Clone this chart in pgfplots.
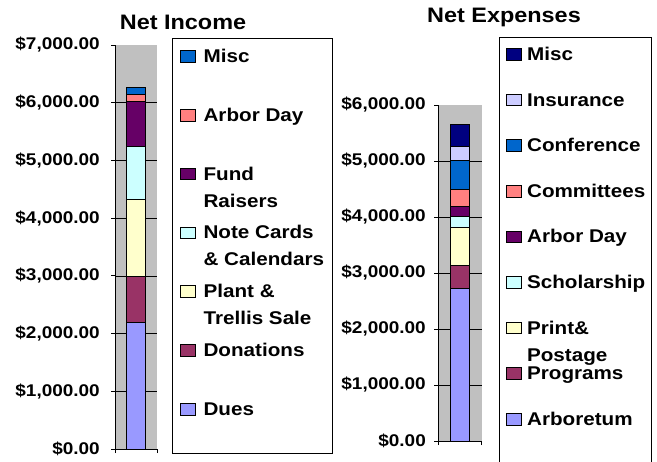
\documentclass[border=0pt]{standalone}
\usepackage{fontspec}
\setmainfont{Liberation Sans}[FakeStretch=1.12]
\usepackage{pgfplots}
\pgfplotsset{compat=1.18}
\definecolor{silverbg}{HTML}{C0C0C0}
\definecolor{periw}{HTML}{9999FF}
\definecolor{plum}{HTML}{993366}
\definecolor{ivory}{HTML}{FFFFCC}
\definecolor{lturq}{HTML}{CCFFFF}
\definecolor{dpurple}{HTML}{660066}
\definecolor{coral}{HTML}{FF8080}
\definecolor{ocean}{HTML}{0066CC}
\definecolor{iceblue}{HTML}{CCCCFF}
\definecolor{navyb}{HTML}{000080}
\newcommand\legfont{\fontsize{18.5}{27}\selectfont\bfseries}
\newcommand\tickfont{\fontsize{17}{20}\selectfont\bfseries}
\newcommand\titfont{\fontsize{21}{25}\selectfont\bfseries}
\newcommand\sevenk{\$7,000.00}
\newcommand\sixk{\$6,000.00}
\protected\def\twoline#1#2{\begin{tabular}[t]{@{}l@{}}#1\\#2\end{tabular}}
\pgfplotsset{
  sqlegend/.style={legend image code/.code={\draw[##1,draw=black,line width=0.6bp] (0bp,0.5bp) rectangle (15bp,12bp);}},
  mychart/.style={
    scale only axis,
    anchor=south west,
    ybar stacked,
    every axis plot post/.append style={sqlegend},
    xmin=-0.5, xmax=0.5, ymin=0,
    axis background/.style={fill=silverbg},
    axis x line=bottom, axis y line=left,
    axis line style={-, black, line width=0.8bp},
    xtick={-0.5,0.5}, xticklabels={},
    ymajorgrids, grid style={black, line width=0.6bp},
    tick align=outside, major tick length=4bp,
    tick style={black, line width=0.8bp},
    yticklabel style={font=\tickfont, anchor=east, inner sep=0pt},
    extra y tick style={grid=none},
    title style={anchor=base, font=\titfont, inner sep=0pt},
    reverse legend,
  },
}
\begin{document}
\begin{tikzpicture}
\useasboundingbox (0,0) rectangle (657bp,462bp);
% ---------------- Net Income ----------------
\begin{axis}[mychart,
  at={(115bp,13bp)}, width=42bp, height=404bp,
  bar width=19bp, ymax=7000,
  yticklabel style={xshift=-11bp},
  ytick={0,1000,2000,3000,4000,5000,6000},
  yticklabels={{\$0.00},{\$1,000.00},{\$2,000.00},{\$3,000.00},{\$4,000.00},{\$5,000.00},{\$6,000.00}},
  extra y ticks={7000}, extra y tick labels={\sevenk},
  title={Net Income}, title style={at={(1.619,1.0247)}},
  legend style={at={(1.357,1.0173)}, anchor=north west, draw=black, line width=1bp,
    fill=white, inner xsep=8bp, inner ysep=10bp, column sep=7.5bp, row sep=16.8bp,
    font=\legfont, cells={anchor=base west},
    nodes={inner sep=0pt, text height=14bp, text depth=28bp}},
]
\addplot[fill=periw, draw=black, line width=0.6bp] coordinates {(0,2200)};
\addlegendentry{Dues}
\addplot[fill=plum, draw=black, line width=0.6bp] coordinates {(0,800)};
\addlegendentry{Donations}
\addplot[fill=ivory, draw=black, line width=0.6bp] coordinates {(0,1320)};
\addlegendentry{\twoline{Plant \&}{Trellis Sale}}
\addplot[fill=lturq, draw=black, line width=0.6bp] coordinates {(0,920)};
\addlegendentry{\twoline{Note Cards}{\& Calendars}}
\addplot[fill=dpurple, draw=black, line width=0.6bp] coordinates {(0,780)};
\addlegendentry{\twoline{Fund}{Raisers}}
\addplot[fill=coral, draw=black, line width=0.6bp] coordinates {(0,130)};
\addlegendentry{Arbor Day}
\addplot[fill=ocean, draw=black, line width=0.6bp] coordinates {(0,115)};
\addlegendentry{Misc}
\end{axis}
% ---------------- Net Expenses ----------------
\begin{axis}[mychart,
  at={(438bp,21bp)}, width=43.5bp, height=336bp,
  bar width=18.5bp, ymax=6000,
  yticklabel style={xshift=-8bp},
  ytick={0,1000,2000,3000,4000,5000},
  yticklabels={{\$0.00},{\$1,000.00},{\$2,000.00},{\$3,000.00},{\$4,000.00},{\$5,000.00}},
  extra y ticks={6000}, extra y tick labels={\sixk},
  title={Net Expenses}, title style={at={(1.517,1.227)}},
  legend style={at={(1.4023,1.2024)}, anchor=north west, draw=black, line width=1bp,
    fill=white, inner xsep=6bp, inner ysep=9bp, column sep=6bp, row sep=1.6bp,
    font=\legfont, cells={anchor=base west},
    nodes={inner sep=0pt, text height=14bp, text depth=30bp}},
]
\addplot[fill=periw, draw=black, line width=0.6bp] coordinates {(0,2720)};
\addlegendentry{Arboretum}
\addplot[fill=plum, draw=black, line width=0.6bp] coordinates {(0,420)};
\addlegendentry{Programs}
\addplot[fill=ivory, draw=black, line width=0.6bp] coordinates {(0,685)};
\addlegendentry{\twoline{Print\&}{Postage}}
\addplot[fill=lturq, draw=black, line width=0.6bp] coordinates {(0,180)};
\addlegendentry{Scholarship}
\addplot[fill=dpurple, draw=black, line width=0.6bp] coordinates {(0,190)};
\addlegendentry{Arbor Day}
\addplot[fill=coral, draw=black, line width=0.6bp] coordinates {(0,300)};
\addlegendentry{Committees}
\addplot[fill=ocean, draw=black, line width=0.6bp] coordinates {(0,520)};
\addlegendentry{Conference}
\addplot[fill=iceblue, draw=black, line width=0.6bp] coordinates {(0,240)};
\addlegendentry{Insurance}
\addplot[fill=navyb, draw=black, line width=0.6bp] coordinates {(0,400)};
\addlegendentry{Misc}
\end{axis}
\end{tikzpicture}
\end{document}
